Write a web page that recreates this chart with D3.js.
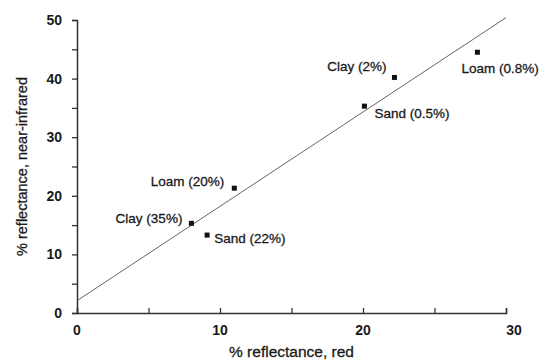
<!DOCTYPE html>
<html>
<head>
<meta charset="utf-8">
<script src="https://cdn.jsdelivr.net/npm/d3@7"></script>
<style>
  body { margin: 0; background: #fff; }
  svg { display: block; }
  text { font-family: 'Liberation Sans', Arial, sans-serif; fill: #1a1a1a; }
</style>
</head>
<body>
<svg id="chart" width="546" height="360"></svg>
<script>
// soil samples: red vs near-infrared reflectance
const soilLabels = ['Clay (2%)', 'Loam (0.8%)', 'Sand (0.5%)', 'Loam (20%)', 'Clay (35%)', 'Sand (22%)'];
const redValues = [22.2, 28.0, 20.1, 11.0, 8.0, 9.1];
const nirValues = [40.2, 44.5, 35.3, 21.3, 15.3, 13.3];

// soil line endpoints
const lineRed = [0, 30];
const lineNir = [2.1, 50.4];

const xTicks = [0, 10, 20, 30];
const yTicks = [0, 10, 20, 30, 40, 50];

// label placement relative to each point
const labelPos = [
  { anchor: 'end', dx: -8, dy: -11 },
  { anchor: 'start', dx: -16, dy: 16 },
  { anchor: 'start', dx: 10, dy: 7 },
  { anchor: 'end', dx: -10, dy: -7 },
  { anchor: 'end', dx: -9, dy: -5 },
  { anchor: 'start', dx: 7, dy: 3 },
];

const svg = d3.select('#chart');
const m = { left: 77, right: 40, top: 20, bottom: 47 };
const W = 546, H = 360;

const x = d3.scaleLinear([0, 30], [m.left, W - m.right]);
const y = d3.scaleLinear([0, 50], [H - m.bottom, m.top]);

// fit line
svg.append('line')
  .attr('x1', x(lineRed[0])).attr('y1', y(lineNir[0]))
  .attr('x2', x(lineRed[1])).attr('y2', y(lineNir[1]))
  .attr('stroke', '#666').attr('stroke-width', 1);

// X axis (ticks pointing up)
const xAxis = svg.append('g')
  .attr('transform', `translate(0,${y(0)})`)
  .call(d3.axisBottom(x).tickValues(d3.range(0, 31, 5)).tickSize(-5).tickFormat(''));
xAxis.select('.domain').attr('stroke', '#333').attr('stroke-width', 1.5);
xAxis.selectAll('.tick line').attr('stroke', '#333').attr('stroke-width', 1.3);

svg.append('g')
  .selectAll('text')
  .data(xTicks)
  .join('text')
  .attr('x', (d) => x(d) + (d === 30 ? 8 : 0))
  .attr('y', y(0) + 22)
  .attr('text-anchor', 'middle')
  .attr('font-size', 14)
  .attr('font-weight', 'bold')
  .text((d) => d);

// Y axis (ticks pointing left)
const yAxis = svg.append('g')
  .attr('transform', `translate(${x(0)},0)`)
  .call(d3.axisLeft(y).tickValues(d3.range(0, 51, 5)).tickSize(5).tickFormat(''));
yAxis.select('.domain').attr('stroke', '#333').attr('stroke-width', 1.5);
yAxis.selectAll('.tick line').attr('stroke', '#333').attr('stroke-width', 1.3);

svg.append('g')
  .selectAll('text')
  .data(yTicks)
  .join('text')
  .attr('x', x(0) - 15)
  .attr('y', (d) => y(d))
  .attr('dy', '0.35em')
  .attr('text-anchor', 'end')
  .attr('font-size', 14)
  .attr('font-weight', 'bold')
  .text((d) => d);

// points
const idx = d3.range(soilLabels.length);
svg.append('g')
  .selectAll('rect')
  .data(idx)
  .join('rect')
  .attr('x', (i) => x(redValues[i]) - 2.5)
  .attr('y', (i) => y(nirValues[i]) - 2.5)
  .attr('width', 5)
  .attr('height', 5)
  .attr('fill', '#111');

svg.append('g')
  .selectAll('text')
  .data(idx)
  .join('text')
  .attr('x', (i) => x(redValues[i]) + labelPos[i].dx)
  .attr('y', (i) => y(nirValues[i]) + labelPos[i].dy)
  .attr('dy', '0.35em')
  .attr('text-anchor', (i) => labelPos[i].anchor)
  .attr('font-size', 13.5)
  .attr('stroke', '#1a1a1a')
  .attr('stroke-width', 0.3)
  .text((i) => soilLabels[i]);

// axis titles
svg.append('text')
  .attr('x', (x(0) + x(30)) / 2)
  .attr('y', 357)
  .attr('text-anchor', 'middle')
  .attr('font-size', 15.5)
  .attr('stroke', '#1a1a1a')
  .attr('stroke-width', 0.3)
  .text('% reflectance, red');

svg.append('text')
  .attr('transform', `translate(27,${(y(0) + y(50)) / 2}) rotate(-90)`)
  .attr('text-anchor', 'middle')
  .attr('font-size', 14.5)
  .attr('stroke', '#1a1a1a')
  .attr('stroke-width', 0.3)
  .text('% reflectance, near-infrared');
</script>
</body>
</html>
